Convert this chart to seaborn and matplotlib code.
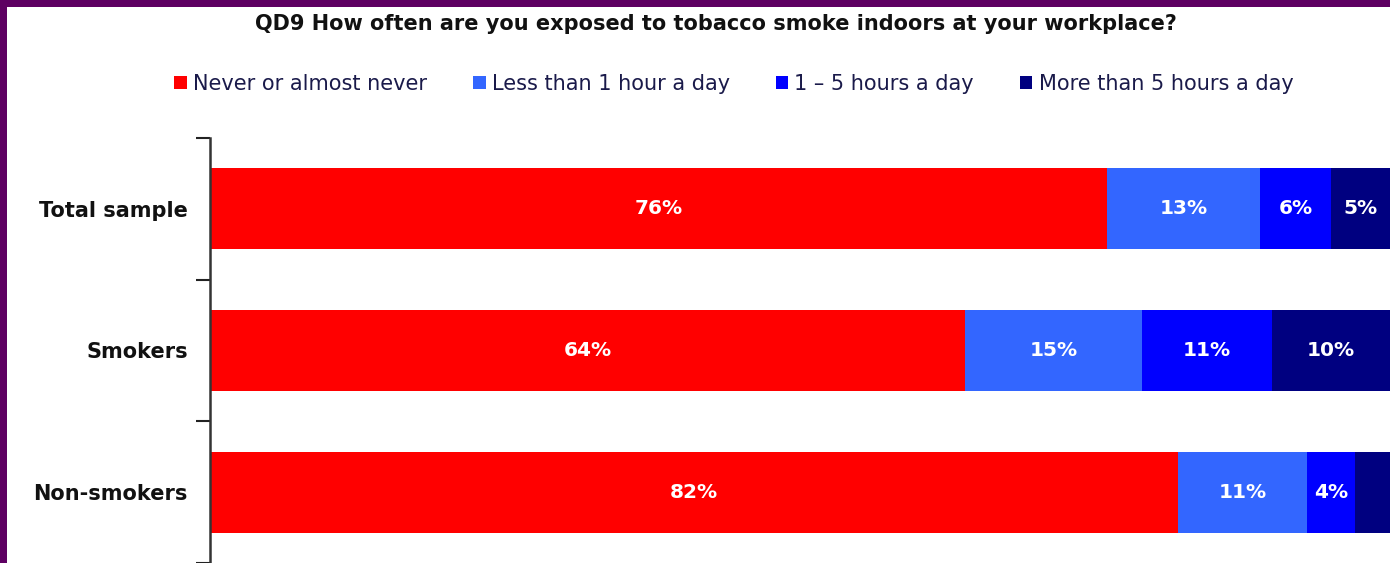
import numpy as np
import pandas as pd
import matplotlib
matplotlib.use("Agg")
import matplotlib.pyplot as plt
from matplotlib.patches import Patch, Rectangle
import seaborn as sns

# data
groups = ["Total sample", "Smokers", "Non-smokers"]
answers = ["Never or almost never", "Less than 1 hour a day",
           "1 \u2013 5 hours a day", "More than 5 hours a day"]
never = [76, 64, 82]
less_1h = [13, 15, 11]
one_to_5h = [6, 11, 4]
more_5h = [5, 10, 3]
colors = ["#FF0000", "#3366FF", "#0000FF", "#000080"]

values = np.array([never, less_1h, one_to_5h, more_5h])
cum = values.cumsum(axis=0)

sns.set_style("white")
plt.rcParams["font.family"] = ["DejaVu Sans"]

fig = plt.figure(figsize=(13.9, 5.63), dpi=100)
fig.patch.set_facecolor("#5e0062")
# white panel inside the purple frame
fig.patches.append(Rectangle((7 / 1390, 0), 1, 1 - 7 / 563, transform=fig.transFigure,
                             facecolor="white", edgecolor="none", zorder=-1))

ax = fig.add_axes([210 / 1390, 0, 1 - 210 / 1390, 1 - 138 / 563])
ax.set_facecolor("white")

# stacked bars: draw cumulative totals from the right-most segment backwards
for i in range(len(answers) - 1, -1, -1):
    df = pd.DataFrame({"group": groups, "value": cum[i]})
    sns.barplot(data=df, x="value", y="group", color=colors[i], width=0.57,
                orient="h", ax=ax, saturation=1, linewidth=0)

for i in range(len(answers)):
    for j, g in enumerate(groups):
        v = values[i, j]
        if v < 4:
            continue
        ax.text(cum[i, j] - v / 2, j, f"{v}%", ha="center", va="center",
                color="white", fontsize=14.5, fontweight="bold")

ax.set_xlim(0, 100)
ax.set_ylim(2.5, -0.5)
ax.set_xlabel("")
ax.set_ylabel("")
ax.set_xticks([])
ax.set_yticks(range(len(groups)))
ax.set_yticklabels(groups, fontsize=15, fontweight="bold", color="#111111")
ax.tick_params(axis="y", which="major", length=0, pad=16)
ax.set_yticks([-0.5, 0.5, 1.5, 2.5], minor=True)
ax.tick_params(axis="y", which="minor", length=10, width=1.5, color="#222222", left=True)
for s in ["top", "right", "bottom"]:
    ax.spines[s].set_visible(False)
ax.spines["left"].set_color("#333333")
ax.spines["left"].set_linewidth(1.8)

fig.text(0.515, 1 - 24 / 563, "QD9 How often are you exposed to tobacco smoke indoors at your workplace?",
         ha="center", va="center", fontsize=15, fontweight="bold", color="#111111")

handles = [Patch(facecolor=c, edgecolor="none") for c in colors]
fig.legend(handles, answers, loc="center", bbox_to_anchor=(0.528, 1 - 84 / 563), ncol=4,
           frameon=False, fontsize=15, handlelength=0.6, handleheight=0.6,
           handletextpad=0.3, columnspacing=2.2, labelcolor="#1a1a4a")

fig.savefig("out.png", dpi=100, facecolor=fig.get_facecolor())
